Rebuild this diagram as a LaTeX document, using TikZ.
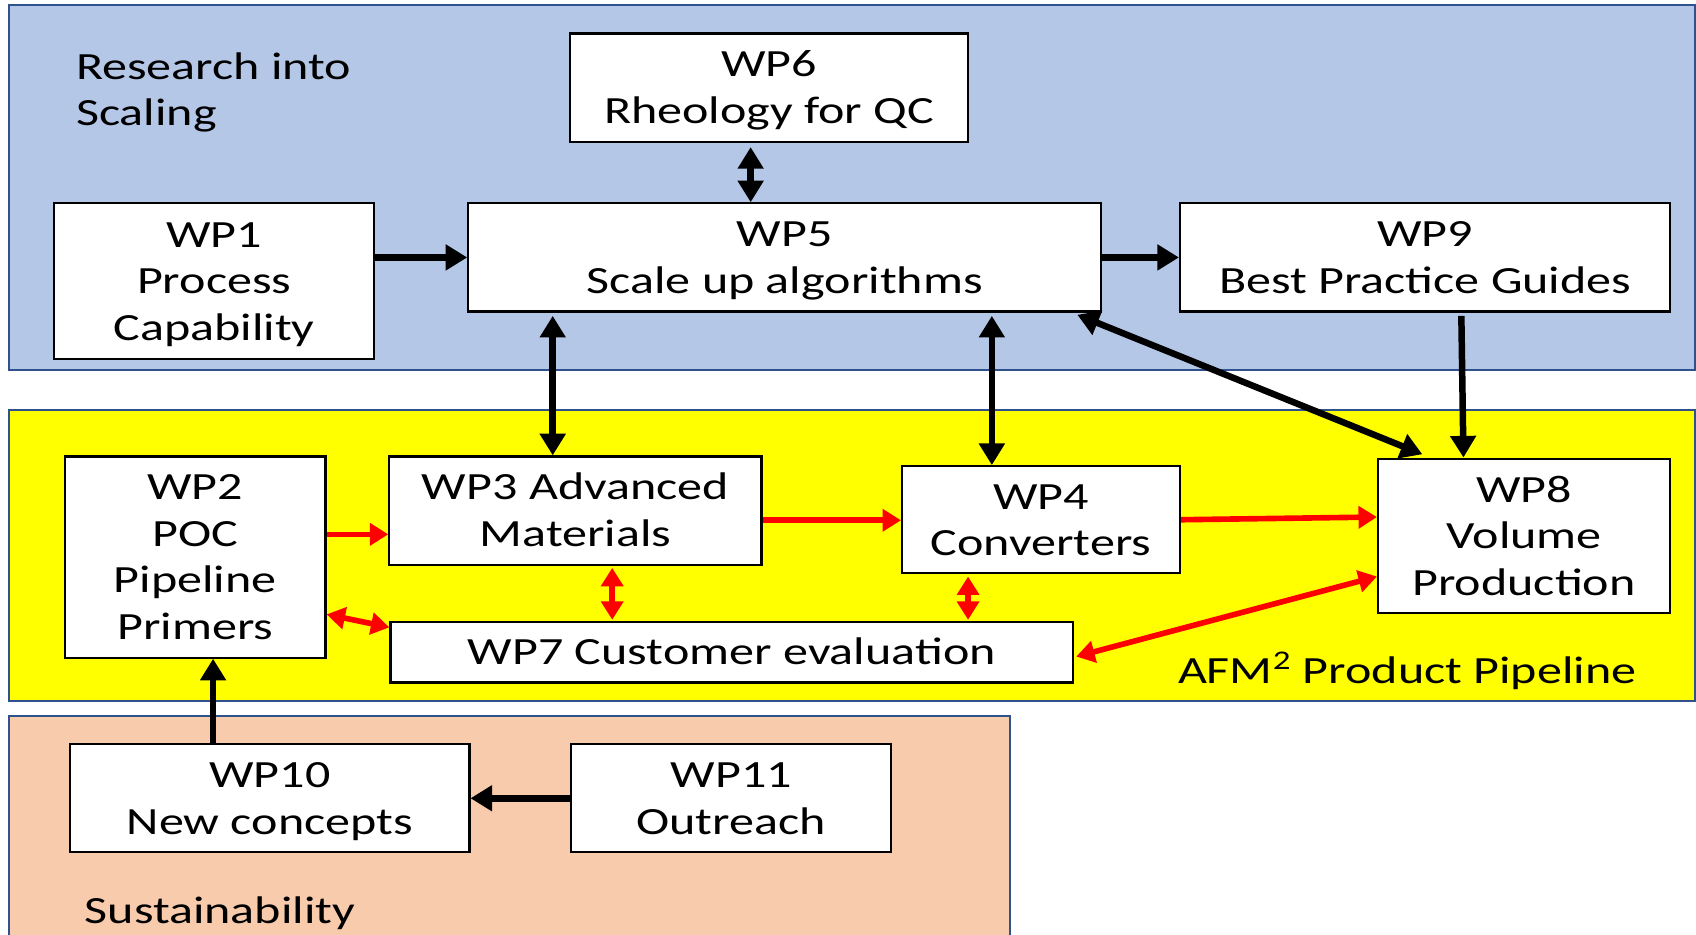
\documentclass[tikz,border=0pt]{standalone}
\usepackage{fontspec}
\setmainfont{Carlito}[FakeStretch=1.3]
\usetikzlibrary{arrows.meta}

\definecolor{paneledge}{RGB}{47,82,143}
\definecolor{scalingbg}{RGB}{180,199,231}
\definecolor{pipelinebg}{RGB}{255,255,0}
\definecolor{sustainbg}{RGB}{248,203,173}

% lines of a box, centred by their line metrics rather than their glyphs
\newcommand\wplines[1]{\raisebox{-1.5pt}[\height][\depth]{\begin{tabular}{@{}c@{}}#1\end{tabular}}}

\begin{document}
\begin{tikzpicture}[x=0.5pt,y=-0.5pt,
  wpbox/.style={draw=black, fill=white, line width=1pt, align=center, inner sep=0pt,
    font=\fontsize{17.8pt}{21.5pt}\selectfont},
  panel/.style={draw=paneledge, line width=1pt},
  grouplabel/.style={font=\fontsize{17.8pt}{21.5pt}\selectfont, inner sep=0pt},
  btip/.tip={Triangle[length=10pt,width=11.5pt]},
  rtip/.tip={Triangle[length=8.5pt,width=10pt]},
  blk/.style={line width=3pt, black, -btip},
  blkboth/.style={line width=3pt, black, btip-btip},
  redone/.style={line width=2.6pt, red, -rtip},
  redboth/.style={line width=2.6pt, red, rtip-rtip}
]
\useasboundingbox (0,0) rectangle (1568,864);

% group panels
\filldraw[panel, fill=scalingbg]   (8,5)   rectangle (1567,342);
\filldraw[panel, fill=pipelinebg]  (8,379) rectangle (1567,648);
\filldraw[panel, fill=sustainbg]   (8,662) rectangle (934,880);

% group titles
\node[grouplabel, anchor=west, align=left] (tscaling) at (70,85.5) {Research into\\Scaling};
\node[grouplabel] (tpipeline) at (1301,620) {AFM\textsuperscript{2} Product Pipeline};
\node[grouplabel, anchor=west] (tsustain) at (78,844) {Sustainability};

% work packages
\node[wpbox, minimum width=184pt,   minimum height=50pt] (wp6)  at (711,81)     {\wplines{WP6\\Rheology for QC}};
\node[wpbox, minimum width=148pt,   minimum height=72pt] (wp1)  at (198,260)    {\wplines{WP1\\Process\\Capability}};
\node[wpbox, minimum width=292.5pt, minimum height=50pt] (wp5)  at (725.5,238)  {\wplines{WP5\\Scale up algorithms}};
\node[wpbox, minimum width=226.5pt, minimum height=50pt] (wp9)  at (1317.5,238) {\wplines{WP9\\Best Practice Guides}};
\node[wpbox, minimum width=120.5pt, minimum height=93pt] (wp2)  at (180.5,515)  {\wplines{WP2\\POC\\Pipeline\\Primers}};
\node[wpbox, minimum width=172pt,   minimum height=50pt] (wp3)  at (532,472)    {\wplines{WP3 Advanced\\Materials}};
\node[wpbox, minimum width=128.5pt, minimum height=49.5pt] (wp4) at (962.5,480.5) {\wplines{WP4\\Converters}};
\node[wpbox, minimum width=135pt,   minimum height=71.5pt] (wp8) at (1409,495.5) {\wplines{WP8\\Volume\\Production}};
\node[wpbox, minimum width=315.5pt, minimum height=28pt] (wp7)  at (676.5,603)  {\wplines{WP7 Customer evaluation}};
\node[wpbox, minimum width=184.5pt, minimum height=50pt] (wp10) at (249.5,738)  {\wplines{WP10\\New concepts}};
\node[wpbox, minimum width=148pt,   minimum height=50pt] (wp11) at (676,738)    {\wplines{WP11\\Outreach}};

% black links
\draw[blk] (wp1.east |- wp5.west) -- (wp5.west);
\draw[blk] (wp5.east) -- (wp9.west);
\draw[blkboth, shorten <=2pt] ([xshift=-8.5pt]wp6.south) -- ([xshift=-15.75pt]wp5.north);
\draw[blkboth, shorten <=1.5pt] ([xshift=-107.25pt]wp5.south) -- ([xshift=-10.5pt]wp3.north);
\draw[blkboth, shorten <=1.5pt] ([xshift=95.75pt]wp5.south) -- ([xshift=-22.75pt]wp4.north);
\draw[blkboth] ([xshift=-11.5pt,yshift=-1pt]wp5.south east) -- ([xshift=21pt,yshift=1.5pt]wp8.north west);
\draw[blk, shorten <=1.5pt] ([xshift=16.75pt]wp9.south) -- ([xshift=-28pt]wp8.north);
\draw[blk] ([xshift=-26.25pt]wp10.north) -- ([xshift=8.25pt]wp2.south);
\draw[blk] (wp11.west) -- (wp10.east);

% red links
\coordinate (in3) at ([yshift=-11pt]wp3.west);
\coordinate (out3) at ([yshift=-4.5pt]wp3.east);
\draw[redone] (wp2.east |- in3) -- (in3);
\draw[redone] (out3) -- (out3 -| wp4.west);
\draw[redone] (wp4.east) -- ([yshift=8.75pt]wp8.west);
\draw[redboth, shorten <=1pt] ([xshift=17pt]wp3.south) -- ([xshift=-55.25pt,yshift=0.5pt]wp7.north);
\draw[redboth, shorten <=1pt] ([xshift=-33.75pt]wp4.south) -- ([xshift=109.25pt,yshift=0.5pt]wp7.north);
\draw[redboth] ([yshift=-26.5pt]wp2.east) -- ([yshift=11.5pt]wp7.west);
\draw[redboth] ([yshift=-18.75pt]wp8.west) -- ([xshift=1pt,yshift=-2pt]wp7.east);
\end{tikzpicture}
\end{document}
